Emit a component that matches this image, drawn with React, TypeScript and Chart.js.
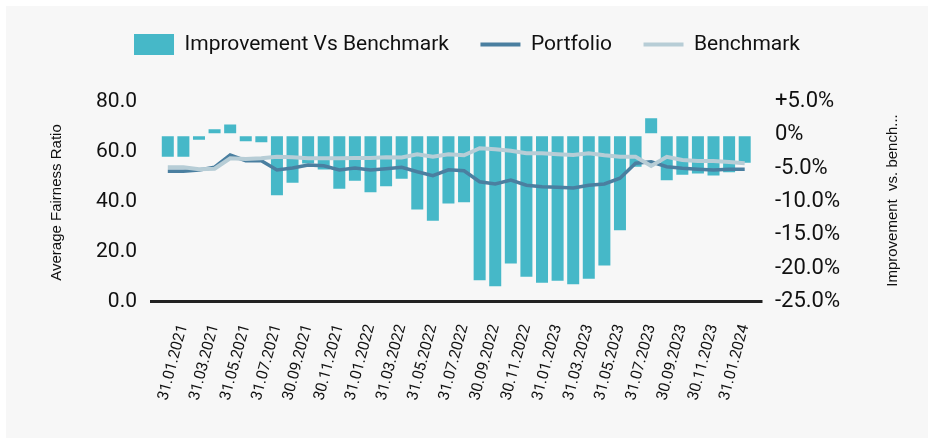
import React, { useEffect, useRef } from 'react';
import { Chart, registerables } from 'chart.js';

Chart.register(...registerables);

const dateLabels = [
  '31.12.2020',
  '31.01.2021', '28.02.2021', '31.03.2021', '30.04.2021', '31.05.2021', '30.06.2021',
  '31.07.2021', '31.08.2021', '30.09.2021', '31.10.2021', '30.11.2021', '31.12.2021',
  '31.01.2022', '28.02.2022', '31.03.2022', '30.04.2022', '31.05.2022', '30.06.2022',
  '31.07.2022', '31.08.2022', '30.09.2022', '31.10.2022', '30.11.2022', '31.12.2022',
  '31.01.2023', '28.02.2023', '31.03.2023', '30.04.2023', '31.05.2023', '30.06.2023',
  '31.07.2023', '31.08.2023', '30.09.2023', '31.10.2023', '30.11.2023', '31.12.2023',
  '31.01.2024',
];

const improvement = [
  -3.3, -3.3, -0.75, 0.85, 1.55, -0.95, -1.1, -9.05, -7.2, -4.3,
  -5.2, -8.1, -6.9, -8.6, -7.7, -6.6, -11.2, -12.9, -10.3, -10.1,
  -21.8, -22.7, -19.3, -21.3, -22.2, -21.9, -22.4, -21.6, -19.6, -14.3,
  -4.8, 2.5, -6.8, -6.0, -5.8, -6.1, -5.6, -4.2,
];

const portfolio = [
  52.1, 52.1, 52.6, 53.7, 58.6, 56.3, 56.3, 52.6, 53.4, 54.6,
  54.3, 52.6, 53.4, 52.6, 53.1, 53.7, 51.9, 50.3, 52.7, 52.3,
  47.9, 47.0, 48.6, 46.5, 45.9, 45.7, 45.4, 46.5, 47.0, 49.3,
  55.3, 55.9, 53.9, 53.3, 52.9, 52.6, 52.9, 52.9,
];

const benchmark = [
  53.7, 53.7, 52.9, 53.1, 57.3, 57.0, 57.3, 57.9, 57.7, 57.3,
  57.3, 57.3, 57.4, 57.4, 57.7, 57.6, 58.9, 57.9, 58.9, 58.5,
  61.3, 60.9, 60.3, 59.3, 59.3, 58.9, 58.6, 59.3, 58.5, 57.9,
  57.9, 54.2, 57.9, 56.6, 56.2, 56.2, 55.8, 55.3,
];

const seriesNames = ['Improvement Vs Benchmark', 'Portfolio', 'Benchmark'];
const leftAxisTitle = 'Average Fairness Ratio';
const rightAxisTitle = 'Improvement  vs. bench...';

const W = 922;
const H = 432;
const PAD_TOP = -3.5;
const AREA_LEFT = 154;
const AREA_RIGHT = 746.5;
const AREA_TOP = 95.5;
const AREA_BOTTOM = 295.5;
const TITLE_FONT = '15px "Liberation Sans", Arial, sans-serif';

const legendHeightPlugin = {
  id: 'legendHeight',
  beforeLayout(chart: any) {
    const lg = chart.legend;
    if (lg && !lg.__patched) {
      const orig = lg.fit.bind(lg);
      lg.fit = function () {
        orig();
        this.height = AREA_TOP - PAD_TOP;
      };
      lg.__patched = true;
    }
  },
};

const axisTitlesPlugin = {
  id: 'axisTitles',
  afterDraw(chart: any) {
    const { ctx, chartArea } = chart;
    const cy = (chartArea.top + chartArea.bottom) / 2;
    ctx.save();
    ctx.font = TITLE_FONT;
    ctx.fillStyle = '#111';
    ctx.textAlign = 'center';
    ctx.textBaseline = 'middle';
    ctx.translate(51, cy + 1);
    ctx.rotate(-Math.PI / 2);
    ctx.fillText(leftAxisTitle, 0, 0);
    ctx.restore();
    ctx.save();
    ctx.font = TITLE_FONT;
    ctx.fillStyle = '#111';
    ctx.textAlign = 'center';
    ctx.textBaseline = 'middle';
    ctx.translate(887, cy - 1);
    ctx.rotate(-Math.PI / 2);
    ctx.fillText(rightAxisTitle, 0, 0);
    ctx.restore();
  },
};

export default function App() {
  const ref = useRef<HTMLCanvasElement | null>(null);

  useEffect(() => {
    if (!ref.current) return;
    const chart = new Chart(ref.current, {
      type: 'bar',
      data: {
        labels: dateLabels,
        datasets: [
          {
            type: 'bar',
            label: seriesNames[0],
            data: improvement,
            yAxisID: 'y1',
            backgroundColor: '#46b8c8',
            borderWidth: 0,
            barPercentage: 0.77,
            categoryPercentage: 1,
            order: 3,
          } as any,
          {
            type: 'line',
            label: seriesNames[1],
            data: portfolio,
            yAxisID: 'y',
            borderColor: '#4a7fa0',
            backgroundColor: '#4a7fa0',
            borderWidth: 3.5,
            pointRadius: 0,
            tension: 0,
            order: 2,
          },
          {
            type: 'line',
            label: seriesNames[2],
            data: benchmark,
            yAxisID: 'y',
            borderColor: '#b7cdd6',
            backgroundColor: '#b7cdd6',
            borderWidth: 4,
            pointRadius: 0,
            tension: 0,
            order: 1,
          },
        ],
      },
      options: {
        animation: false,
        responsive: false,
        layout: { padding: { top: PAD_TOP, left: 0, right: 0, bottom: 0 } },
        plugins: {
          tooltip: { enabled: false },
          legend: {
            display: true,
            position: 'top',
            labels: {
              usePointStyle: true,
              pointStyleWidth: 40,
              padding: 31.5,
              color: '#111',
              font: { family: 'Roboto', size: 21 },
              generateLabels(chart: any) {
                const items = Chart.defaults.plugins.legend.labels.generateLabels(chart);
                items.sort((a: any, b: any) => a.datasetIndex - b.datasetIndex);
                items.forEach((it: any) => {
                  if (it.datasetIndex === 0) {
                    it.pointStyle = 'rect';
                    it.lineWidth = 0;
                  } else {
                    it.pointStyle = 'line';
                    it.lineWidth = 4;
                  }
                });
                return items;
              },
            },
          },
        },
        scales: {
          x: {
            type: 'category',
            offset: true,
            grid: { display: false, drawTicks: false },
            border: { display: true, color: '#222', width: 3 },
            ticks: {
              autoSkip: false,
              maxRotation: 75,
              minRotation: 75,
              padding: 21,
              color: '#111',
              font: { family: 'Roboto', size: 15.5 },
              callback: (_v: any, i: number) => (i % 2 === 1 ? dateLabels[i] : ''),
            },
            afterFit: (s: any) => {
              s.height = H - AREA_BOTTOM;
            },
          },
          y: {
            type: 'linear',
            position: 'left',
            min: 0,
            max: 80,
            grid: {
              drawOnChartArea: false,
              drawTicks: true,
              tickLength: 10,
              lineWidth: 3,
              color: (c: any) => (c.tick && c.tick.value === 0 ? '#222' : 'rgba(0,0,0,0)'),
            },
            border: { display: false },
            ticks: {
              stepSize: 20,
              padding: 13,
              color: '#111',
              font: { family: 'Roboto', size: 21 },
              callback: (v: any) => Number(v).toFixed(1),
            },
            afterFit: (s: any) => {
              s.width = AREA_LEFT;
            },
          },
          y1: {
            type: 'linear',
            position: 'right',
            min: -25,
            max: 5,
            grid: {
              drawOnChartArea: false,
              drawTicks: true,
              tickLength: 10,
              lineWidth: 3,
              color: (c: any) => (c.tick && c.tick.value === -25 ? '#222' : 'rgba(0,0,0,0)'),
            },
            border: { display: false },
            ticks: {
              stepSize: 5,
              padding: 12.5,
              color: '#111',
              font: { family: 'Roboto', size: 22 },
              callback: (v: any) => {
                const n = Number(v);
                if (n === 0) return '0%';
                return (n > 0 ? '+' : '') + n.toFixed(1) + '%';
              },
            },
            afterFit: (s: any) => {
              s.width = W - AREA_RIGHT;
            },
          },
        },
      },
      plugins: [legendHeightPlugin, axisTitlesPlugin],
    } as any);
    return () => chart.destroy();
  }, []);

  return (
    <div
      style={{
        position: 'absolute',
        left: 6,
        top: 6,
        width: W,
        height: H,
        background: '#f7f7f7',
      }}
    >
      <canvas ref={ref} width={W} height={H} style={{ display: 'block', width: W, height: H }} />
    </div>
  );
}
